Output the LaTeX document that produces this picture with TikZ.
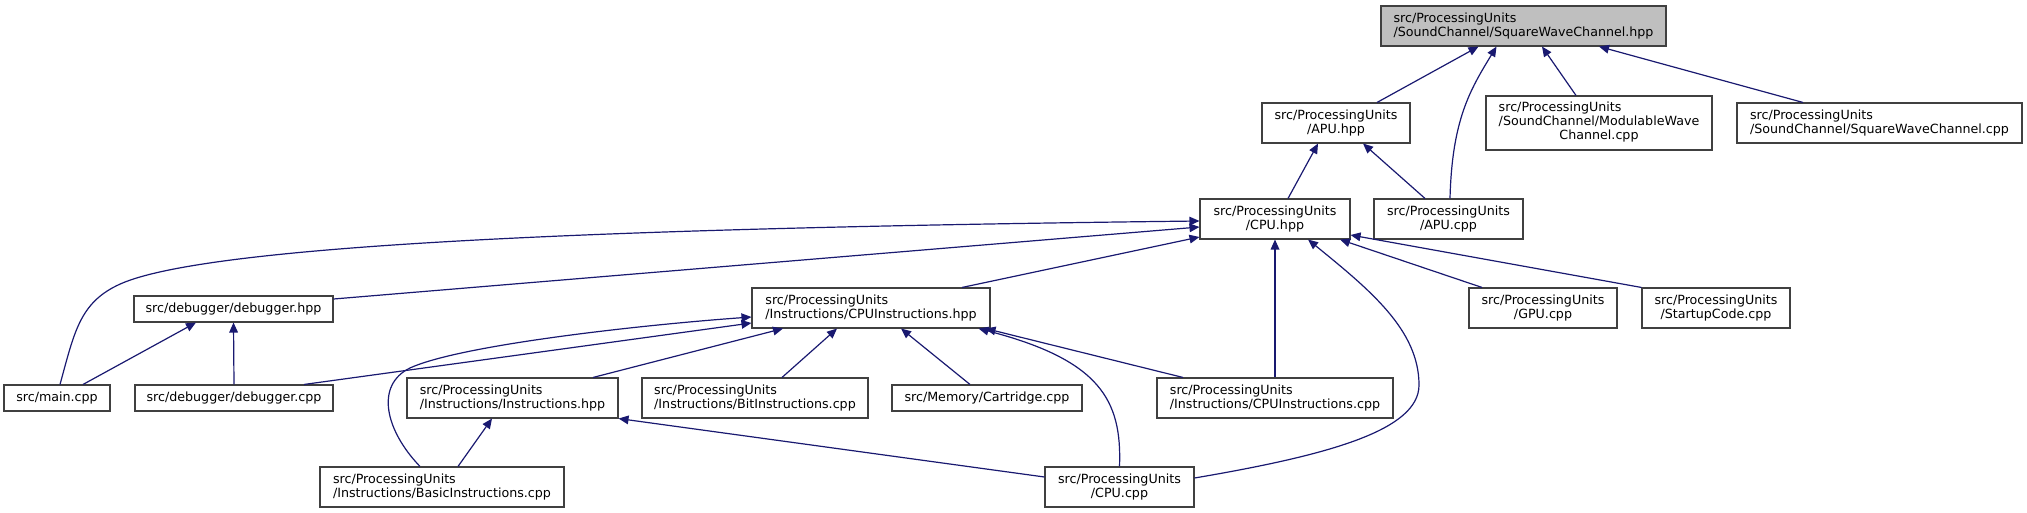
\documentclass[tikz,border=0pt]{standalone}
\usepackage{fontspec}
\setmainfont{DejaVu Sans}
\usetikzlibrary{arrows.meta,calc}
\definecolor{edgeblue}{HTML}{191970}
\definecolor{headgray}{HTML}{BFBFBF}
\definecolor{boxline}{HTML}{404040}

\begin{document}
\begin{tikzpicture}[x=0.75pt,y=-0.75pt,
    file/.style={draw=boxline, line width=0.8pt, fill=white, inner sep=0pt,
        font=\fontsize{9.5}{10.4}\selectfont, align=left},
    dims/.style 2 args={minimum width=#1*0.75pt, minimum height=#2*0.75pt},
    incl/.style={draw=edgeblue, line width=0.9pt,
        -{Triangle[length=7.5pt,width=6.5pt]}}]
    \useasboundingbox (0,0) rectangle (2027,513);

    % Top row - the header itself
    \node[file, fill=headgray, dims={285}{40}] (swchpp) at (1523.5,26)
        {src/ProcessingUnits\\/SoundChannel/SquareWaveChannel.hpp};

    % Second row
    \node[file, align=center, dims={148}{40}] (apuhpp) at (1336,123)
        {src/ProcessingUnits\\/APU.hpp};
    \node[file, dims={226}{54}] (modcpp) at (1599,123)
        {\begin{tabular}{@{}l@{}}src/ProcessingUnits\\/SoundChannel/ModulableWave\\
        \multicolumn{1}{@{}c@{}}{Channel.cpp}\end{tabular}};
    \node[file, dims={285}{40}] (swccpp) at (1879.5,123)
        {src/ProcessingUnits\\/SoundChannel/SquareWaveChannel.cpp};

    % Third row
    \node[file, align=center, dims={150}{40}] (cpuhpp) at (1275,219)
        {src/ProcessingUnits\\/CPU.hpp};
    \node[file, align=center, dims={149}{40}] (apucpp) at (1448.5,219)
        {src/ProcessingUnits\\/APU.cpp};

    % Fourth row
    \node[file, dims={199}{26}] (dbghpp) at (233.5,309) {src/debugger/debugger.hpp};
    \node[file, dims={238}{40}] (cpuinstrhpp) at (871,308)
        {src/ProcessingUnits\\/Instructions/CPUInstructions.hpp};
    \node[file, align=center, dims={148}{40}] (gpucpp) at (1543,308)
        {src/ProcessingUnits\\/GPU.cpp};
    \node[file, align=center, dims={148}{40}] (startcpp) at (1716,308)
        {src/ProcessingUnits\\/StartupCode.cpp};

    % Fifth row
    \node[file, dims={106}{26}] (maincpp) at (57,398) {src/main.cpp};
    \node[file, dims={198}{26}] (dbgcpp) at (234,398) {src/debugger/debugger.cpp};
    \node[file, dims={211}{40}] (instrhpp) at (512.5,398)
        {src/ProcessingUnits\\/Instructions/Instructions.hpp};
    \node[file, dims={226}{40}] (bitcpp) at (755,398)
        {src/ProcessingUnits\\/Instructions/BitInstructions.cpp};
    \node[file, dims={190}{26}] (cartcpp) at (987,398) {src/Memory/Cartridge.cpp};
    \node[file, dims={236}{40}] (cpuinstrcpp) at (1275,398)
        {src/ProcessingUnits\\/Instructions/CPUInstructions.cpp};

    % Bottom row
    \node[file, dims={244}{40}] (basiccpp) at (442,487)
        {src/ProcessingUnits\\/Instructions/BasicInstructions.cpp};
    \node[file, align=center, dims={149}{40}] (cpucpp) at (1119.5,487)
        {src/ProcessingUnits\\/CPU.cpp};

    % Includes of SquareWaveChannel.hpp
    \draw[incl] ($(apuhpp.north)+(41,0)$) -- ($(swchpp.south)+(-45,0)$);
    \draw[incl] ($(apucpp.north)+(1.5,0)$) .. controls (1452,120) and (1470,90)
        .. ($(swchpp.south)+(-27,0)$);
    \draw[incl] ($(modcpp.north)+(-23,0)$) -- ($(swchpp.south)+(18.5,0)$);
    \draw[incl] ($(swccpp.north)+(-76.5,0)$) -- ($(swchpp.south)+(75.5,0)$);

    % Includes of APU.hpp
    \draw[incl] ($(cpuhpp.north)+(13,0)$) -- ($(apuhpp.south)+(-18,0)$);
    \draw[incl] ($(apucpp.north)+(-23.5,0)$) -- ($(apuhpp.south)+(27,0)$);

    % Includes of CPU.hpp
    \draw[incl] ($(maincpp.north)+(3,0)$) .. controls (75,330) and (80,300)
        .. (125,282) .. controls (220,245) and (600,228) .. ($(cpuhpp.west)+(0,2)$);
    \draw[incl] ($(dbghpp.east)+(0,-10)$) -- ($(cpuhpp.west)+(0,8)$);
    \draw[incl] ($(cpuinstrhpp.north)+(91,0)$) -- ($(cpuhpp.west)+(0,18)$);
    \draw[incl] (cpuinstrcpp.north) -- (cpuhpp.south);
    \draw[incl] ($(cpucpp.east)+(0,-9)$) .. controls (1330,455) and (1419,430)
        .. (1419,385) .. controls (1419,330) and (1370,290) .. ($(cpuhpp.south)+(33,0)$);
    \draw[incl] ($(gpucpp.north)+(-61,0)$) -- ($(cpuhpp.south)+(65,0)$);
    \draw[incl] (startcpp.north west) -- ($(cpuhpp.east)+(0,16)$);

    % Includes of debugger.hpp
    \draw[incl] ($(maincpp.north)+(26,0)$) -- ($(dbghpp.south)+(-37.5,0)$);
    \draw[incl] (dbgcpp.north) -- (dbghpp.south);

    % Includes of CPUInstructions.hpp
    \draw[incl] ($(dbgcpp.north)+(70,0)$) -- ($(cpuinstrhpp.west)+(0,15)$);
    \draw[incl] ($(basiccpp.north)+(-22,0)$) .. controls (385,430) and (375,385)
        .. (410,368) .. controls (460,345) and (640,325) .. ($(cpuinstrhpp.west)+(0,9)$);
    \draw[incl] ($(instrhpp.north)+(80.5,0)$) -- ($(cpuinstrhpp.south)+(-88,0)$);
    \draw[incl] ($(bitcpp.north)+(27,0)$) -- ($(cpuinstrhpp.south)+(-34,0)$);
    \draw[incl] ($(cartcpp.north)+(-17,0)$) -- ($(cpuinstrhpp.south)+(30,0)$);
    \draw[incl] (cpucpp.north) .. controls (1122,400) and (1100,360)
        .. ($(cpuinstrhpp.south east)+(-12,0)$);
    \draw[incl] ($(cpuinstrcpp.north)+(-92,0)$) -- ($(cpuinstrhpp.south east)+(-5,0)$);

    % Includes of Instructions.hpp
    \draw[incl] ($(basiccpp.north)+(16,0)$) -- ($(instrhpp.south)+(-20.5,0)$);
    \draw[incl] ($(cpucpp.west)+(0,-10)$) -- (instrhpp.south east);
\end{tikzpicture}
\end{document}
